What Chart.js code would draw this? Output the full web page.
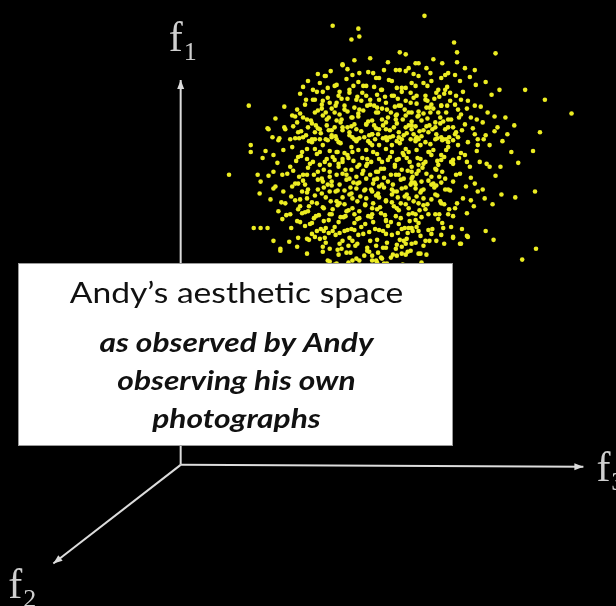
<!DOCTYPE html>
<html>
<head>
<meta charset="utf-8">
<title>Andy's aesthetic space</title>
<script src="https://cdn.jsdelivr.net/npm/chart.js@4.4.0/dist/chart.umd.min.js"></script>
<style>
  html, body { margin: 0; padding: 0; background: #000; }
  #space { display: block; }
</style>
</head>
<body>
<canvas id="space" width="616" height="606"></canvas>
<script>
// Feature axes: f3 runs right, f1 runs up, f2 comes out towards the viewer
const axisTips = {
  f1: [0, 39.0],
  f3: [40.8, -0.2],
  f2: [-12.9, -10.0]
};

// Photographs as [f3, f1] pairs, loose points around the edge of the cloud
const cloudOuter = [
  [15.4,44.5],[18.0,44.2],[17.3,43.1],[18.1,43.4],[22.2,41.8],[22.8,41.6],[16.4,40.6],[14.7,39.4],
  [6.9,36.4],[8.8,34.1],[10.0,33.1],[13.8,37.8],[15.8,38.5],[16.1,37.8],[17.1,38.0],[18.5,38.4],
  [19.8,39.2],[20.6,40.0],[22.8,39.9],[23.8,40.7],[21.4,38.9],[22.4,38.2],[23.4,38.7],[20.4,38.0],
  [17.8,37.0],[18.8,37.4],[15.8,36.7],[14.3,36.5],[13.4,37.0],[11.8,36.0],[11.3,35.4],[12.4,35.2],
  [13.6,35.7],[14.8,35.0],[15.6,35.7],[16.6,36.0],[17.3,35.2],[18.1,36.0],[18.9,36.4],[19.8,35.7],
  [20.8,36.7],[21.6,37.4],[22.3,36.4],[23.3,36.7],[22.8,35.4],[21.8,35.0],[20.8,34.7],[18.8,34.5],
  [17.8,34.0],[16.4,34.2],[15.3,33.9],[14.1,34.0],[12.9,34.2],[11.9,33.7],[11.1,33.0],[12.4,33.2],
  [13.6,33.0],[15.8,33.0],[17.1,33.4],[19.4,33.5],[20.1,34.0],[22.1,33.7],[23.4,34.0],[23.9,33.2],
  [11.8,34.7],[10.6,34.0],
  [24.7,45.5],[27.7,42.8],[28.0,41.8],[31.9,41.7],[28.0,40.8],[24.1,40.7],[28.8,40.2],[24.9,40.2],
  [24.1,39.4],[25.4,38.9],[26.4,39.2],[27.1,39.7],[27.8,39.5],[29.3,39.3],[29.9,38.5],[32.3,38.0],
  [34.9,38.0],[36.9,37.0],[39.6,35.6],[36.4,33.7],[26.8,38.0],[25.9,37.7],[27.9,37.4],[29.1,36.9],
  [23.3,37.7],[24.8,37.0],[25.4,36.5],[26.4,36.4],[27.3,36.9],[28.1,36.0],[29.8,36.4],[31.1,35.7],
  [32.9,35.2],[33.8,34.4],[32.1,34.2],[30.6,34.7],[29.4,35.2],[28.8,34.5],[27.4,35.0],[26.3,35.2],
  [25.3,35.7],[24.1,35.4],[23.1,35.7],[23.4,34.4],[24.6,33.9],[25.8,34.2],[26.8,34.0],[27.9,33.7],
  [29.8,33.5],[30.9,33.4],[33.1,33.5],[30.1,33.0],[26.9,33.0],[22.6,33.4],
  [4.9,29.4],[7.1,32.4],[7.1,31.7],[8.3,31.1],[9.4,31.4],[7.8,29.4],[8.1,28.7],[8.0,27.5],
  [9.1,26.9],[7.4,24.0],[8.1,24.0],[8.8,24.0],[9.4,22.7],[10.1,21.9],[11.9,23.0],[9.9,25.7],
  [10.3,24.9],[11.1,25.4],[10.6,26.5],[9.6,28.2],[10.4,27.7],[10.3,29.4],[9.4,29.7],[11.1,30.2],
  [9.3,33.2],[11.3,32.2],[11.9,31.2],[12.4,29.4],[11.6,28.5],[12.3,27.7],[12.8,27.0],[12.1,26.2],
  [12.9,25.7],[11.8,24.7],[13.1,24.4],[13.8,23.7],[12.8,22.9],[14.6,23.0],[15.4,23.7],[16.6,23.7],
  [16.1,22.4],[17.4,22.7],[15.1,21.9],[16.8,21.5],[17.8,20.9],[14.9,20.7],[18.9,21.7],[19.8,22.2],
  [20.8,22.0],[21.8,21.9],[22.6,22.7],[23.4,22.4],[20.4,20.9],[19.4,20.7],
  [35.7,31.8],[35.9,27.7],[33.9,27.1],[32.5,27.4],[36.0,21.9],[34.6,20.8],[31.7,22.8],[30.9,23.7],
  [29.1,23.1],[27.6,23.0],[26.6,24.0],[28.3,22.4],[31.6,26.4],[30.8,27.0],[30.1,27.7],[29.7,26.2],
  [32.4,30.2],[31.3,30.2],[29.8,28.5],[29.3,30.2],[30.3,30.7],[31.3,32.4],[30.1,32.4],[28.8,31.4],
  [28.1,32.4],[27.4,30.7],[28.3,29.5],[27.6,28.7],[28.6,27.0],[27.8,26.0],[26.8,27.9],[26.4,26.5],
  [27.1,25.4],[26.1,24.9],[25.1,25.4],[24.1,23.7],[23.1,24.0],[22.8,22.4],[24.1,21.4],[22.4,21.4],
  [25.4,23.4],[24.8,22.7],[24.6,27.0],[25.4,28.4],[25.8,30.0],[26.4,31.4],[27.1,32.7],[25.1,31.7],
  [24.1,30.4],[23.4,29.0],[24.4,28.7],[23.1,27.0],[23.8,28.0],[25.8,33.0],[24.1,33.0],
  [10.1,21.7],[11.8,22.1],[13.6,23.1],[15.1,20.6],[15.8,20.4],[15.9,21.8],[17.4,20.7],[18.1,20.7],
  [19.4,21.2],[19.8,20.7],[20.3,21.0],[21.3,21.0],[21.9,21.2],[22.8,21.3],[24.3,21.4],[24.4,20.5],
  [27.6,23.1],[28.4,22.4],[29.0,23.2],[19.9,20.5],[20.6,20.4]
];

// Dense middle of the cloud
const cloudCore = [
  [14.1,31.7],[14.8,31.0],[14.1,30.4],[15.1,29.7],[14.4,28.7],[15.1,27.7],[15.8,31.7],[16.4,30.7],
  [16.8,29.4],[16.1,28.4],[17.1,27.4],[15.8,26.7],[17.4,31.7],[18.1,30.4],[18.8,29.0],[17.8,28.0],
  [18.8,27.0],[19.4,32.4],[20.1,31.0],[19.8,29.7],[20.4,28.4],[19.4,27.7],[20.8,26.7],[21.4,32.4],
  [22.1,31.0],[21.8,29.4],[22.4,28.0],[21.4,27.4],[23.1,31.7],[23.4,29.7],[23.8,28.4],[22.8,26.4],
  [23.8,25.4],[15.1,25.4],[16.8,25.7],[18.1,25.0],[19.4,25.4],[20.8,24.7],[22.1,24.4],[23.4,24.0],
  [14.1,33.0],[17.4,33.2],[19.1,33.4],[20.8,33.2],[22.4,33.0],[23.8,33.0],
  [14.6,39.4],[16.4,40.5],[18.1,39.7],[20.1,39.2],[21.8,40.0],[23.1,40.2],[26.8,39.5],
  [13.4,38.0],[15.6,38.4],[17.1,37.7],[18.8,38.4],[20.3,38.0],[21.4,37.4],[22.8,38.2],[23.8,38.4],
  [24.8,37.4],[26.1,38.0],[27.3,37.7],
  [13.6,37.0],[15.1,36.7],[16.6,36.4],[18.3,36.9],[19.6,36.4],[20.9,36.0],[22.1,36.4],[23.4,35.7],
  [24.9,36.2],[26.4,36.4],[27.8,36.5],
  [12.8,35.0],[14.4,35.4],[15.8,34.9],[17.4,35.2],[18.8,34.5],[20.4,35.0],[21.8,35.4],[23.1,34.4],
  [24.4,34.9],[25.8,34.7],[27.1,35.0],
  [13.6,33.7],[15.3,33.4],[16.4,33.9],[17.9,33.0],[19.4,33.5],[20.8,34.0],[22.1,33.2],[23.6,33.5],
  [25.1,33.7],[26.4,33.2],[27.8,33.5],
  [12.8,32.0],[14.4,32.4],[15.9,31.7],[17.3,32.2],[18.8,31.9],[20.1,32.4],[21.4,31.7],[22.8,32.0],
  [24.3,32.4],[25.6,31.9],[27.1,32.2],
  [13.4,30.7],[15.1,30.4],[16.4,31.0],[17.9,30.2],[19.3,30.7],[20.6,30.0],[21.9,30.9],[23.4,30.2],
  [24.8,30.7],[26.1,30.4],[27.6,30.9],
  [12.8,29.4],[14.3,29.0],[15.8,29.4],[17.1,29.0],[18.4,29.5],[19.9,29.0],[21.3,29.4],[22.6,29.0],
  [23.9,29.5],[25.4,29.2],[26.8,29.0]
];

// Lower half of the core and the in-between points
const cloudFill = [
  [12.6,28.4],[13.9,27.9],[15.3,28.3],[16.6,27.8],[17.9,28.5],[19.3,27.9],[20.6,28.1],[21.9,27.7],
  [23.3,28.4],[24.6,27.9],[25.9,28.3],[27.3,27.8],
  [12.1,26.9],[13.3,26.6],[14.7,27.1],[16.1,26.5],[17.4,27.0],[18.7,26.4],[20.1,27.1],[21.4,26.6],
  [22.7,27.2],[24.1,26.5],[25.4,26.9],[26.7,26.4],
  [12.6,25.6],[14.0,25.3],[15.4,25.9],[16.7,25.2],[18.1,25.7],[19.4,26.0],[20.7,25.3],[22.1,25.8],
  [23.5,25.5],[24.8,25.9],[26.2,25.4],
  [13.3,24.5],[14.7,24.0],[16.0,24.6],[17.3,23.9],[18.7,24.4],[20.1,23.8],[21.3,24.6],[22.7,24.0],
  [24.1,24.5],[25.5,23.9],
  [14.1,22.9],[15.7,23.3],[17.1,23.0],[18.5,23.4],[19.9,22.8],[21.4,23.3],[22.9,22.9],[24.3,23.2],
  [25.9,22.7],
  [16.3,21.9],[17.7,22.2],[19.1,21.6],[20.5,22.0],[21.9,22.3],[23.3,21.7],
  [14.9,37.2],[16.3,37.1],[17.9,37.3],[19.2,37.0],[20.7,37.3],[22.0,37.1],[23.6,37.2],[25.0,36.9],
  [26.2,37.3],
  [13.9,35.9],[15.3,36.1],[16.9,35.8],[18.5,35.9],[19.9,36.2],[21.3,35.7],[22.7,36.0],[24.1,35.8],
  [25.6,36.1],[26.9,35.7],
  [13.3,34.6],[14.8,34.4],[16.2,34.7],[17.6,34.5],[19.0,34.8],[20.5,34.4],[21.9,34.6],[23.4,34.8],
  [24.9,34.3],[26.3,34.6],
  [12.7,33.4],[14.2,33.6],[15.7,33.3],[17.1,33.7],[18.6,33.2],[20.0,33.5],[21.5,33.3],[22.9,33.6],
  [24.4,33.3],[25.9,33.5],[27.2,33.2],
  [13.3,32.7],[14.9,32.9],[16.2,32.6],[17.8,32.8],[19.2,32.6],[20.9,32.9],[22.2,32.6],[23.8,32.8],
  [25.3,32.5],[26.5,32.9],
  [12.2,31.3],[13.8,31.5],[15.4,31.2],[16.9,31.4],[18.4,31.1],[19.9,31.5],[21.2,31.2],[22.6,31.4],
  [24.0,31.1],[25.4,31.4],[26.7,31.2],
  [12.9,30.1],[14.5,29.9],[16.0,30.2],[17.3,29.9],[18.8,30.3],[20.3,30.0],[21.7,30.2],[23.0,29.8],
  [24.5,30.1],[25.9,29.9],
  [12.4,28.8],[13.9,28.9],[15.3,28.7],[16.8,28.9],[18.1,28.6],[19.6,28.9],[21.0,28.7],[22.3,28.9],
  [23.7,28.6],[25.1,28.8],[26.4,28.6],
  [12.8,27.6],[14.3,27.5],[15.7,27.7],[17.3,27.5],[18.6,27.8],[20.0,27.5],[21.6,27.7],[22.9,27.4],
  [24.3,27.6],[25.8,27.4],
  [13.0,26.2],[14.4,26.1],[15.9,26.3],[17.4,26.0],[18.7,26.3],[20.2,26.1],[21.6,26.2],[23.1,26.0],
  [24.6,26.3],
  [13.5,25.0],[15.0,24.8],[16.5,25.1],[17.9,24.9],[19.3,25.1],[20.8,24.8],[22.3,25.0],[23.8,24.8],
  [14.5,23.7],[16.1,23.5],[17.6,23.8],[19.1,23.6],[20.5,23.7],[22.0,23.5],[23.5,23.7]
];

// Second pass over the whole cloud, between the points above
const cloudExtra = [
  [17.6,41.0],[19.2,41.2],[21.0,40.8],[25.6,41.1],[26.5,40.7],
  [15.2,39.9],[16.9,40.1],[19.0,39.8],[22.2,40.0],[25.3,39.7],[29.8,40.0],
  [12.9,38.9],[14.1,38.7],[16.8,39.1],[18.0,38.8],[21.1,39.0],[24.6,38.7],[28.3,38.9],[30.9,38.8],
  [12.1,37.6],[14.4,37.8],[16.0,37.4],[18.4,37.7],[19.9,37.5],[22.4,37.8],[23.9,37.4],[26.7,37.6],
  [28.6,37.8],[31.5,37.5],
  [10.5,36.3],[12.6,36.5],[14.3,36.1],[15.7,36.4],[17.6,36.2],[19.2,36.5],[20.4,36.1],[21.7,36.3],
  [23.9,36.6],[25.2,36.2],[27.0,36.4],[29.0,36.1],[30.4,36.3],
  [9.6,35.1],[11.6,35.3],[13.2,34.9],[15.0,35.2],[16.3,35.0],[18.0,35.3],[19.4,34.9],[21.0,35.2],
  [22.5,35.0],[24.0,35.3],[25.0,35.1],[26.6,34.8],[28.2,35.2],[30.0,35.0],[31.8,35.3],
  [8.9,34.0],[10.5,34.2],[12.2,33.8],[13.9,34.1],[15.0,33.9],[16.9,34.2],[18.3,33.8],[19.8,34.1],
  [21.2,33.9],[22.8,34.2],[24.2,33.8],[25.5,34.0],[27.1,34.2],[28.5,33.9],[29.6,34.1],[31.8,33.8],
  [9.9,32.9],[11.6,33.1],[13.0,32.8],[14.7,33.0],[16.0,32.7],[17.6,33.0],[19.0,32.8],[20.5,33.1],
  [21.9,32.8],[23.3,33.0],[24.8,32.7],[26.0,33.1],[27.6,32.9],[29.1,32.7],[30.7,33.0],[32.6,32.8],
  [8.6,31.8],[10.4,31.9],[12.3,31.7],[13.6,32.0],[15.1,31.8],[16.6,31.6],[18.0,31.9],[19.5,31.7],
  [20.8,32.0],[22.5,31.6],[23.9,31.9],[25.2,31.7],[26.9,31.9],[28.4,31.6],[30.0,31.8],[33.5,31.7],
  [9.8,30.6],[11.7,30.8],[13.1,30.5],[14.6,30.7],[16.0,30.5],[17.5,30.8],[18.9,30.5],[20.4,30.7],
  [21.7,30.4],[23.2,30.7],[24.6,30.5],[26.0,30.8],[27.6,30.5],[29.0,30.7],[31.0,30.5],[34.2,30.6],
  [8.9,29.3],[10.8,29.5],[12.0,29.2],[13.5,29.4],[15.1,29.2],[16.4,29.5],[17.8,29.2],[19.2,29.4],
  [20.6,29.1],[22.1,29.4],[23.5,29.2],[24.9,29.5],[26.2,29.2],[27.9,29.4],[29.4,29.1],[31.9,29.3],
  [9.4,28.0],[11.3,28.2],[12.9,27.9],[14.5,28.1],[15.9,27.8],[17.2,28.1],[18.7,27.9],[20.1,28.2],
  [21.4,27.9],[22.8,28.1],[24.4,27.8],[25.7,28.1],[27.1,27.9],[28.9,28.2],[30.6,27.9],
  [10.2,26.6],[11.6,26.8],[13.8,26.5],[15.2,26.7],[16.6,26.4],[17.9,26.7],[19.5,26.5],[20.8,26.8],
  [22.3,26.5],[23.6,26.7],[25.0,26.4],[26.3,26.7],[28.0,26.5],[29.4,26.8],
  [10.7,25.3],[12.3,25.5],[13.7,25.2],[15.3,25.4],[16.2,25.1],[17.6,25.4],[19.0,25.2],[20.3,25.5],
  [21.8,25.2],[23.1,25.4],[24.4,25.1],[25.8,25.4],[27.6,25.2],[29.0,25.5],
  [11.2,24.0],[12.6,24.2],[14.2,23.9],[15.6,24.1],[16.9,23.8],[18.3,24.1],[19.7,23.9],[21.0,24.2],
  [22.4,23.9],[23.9,24.1],[25.1,23.8],[27.4,24.1],[28.5,23.9],
  [11.0,22.6],[13.0,22.8],[14.7,22.5],[16.4,22.7],[17.9,22.4],[19.2,22.7],[20.9,22.5],[22.2,22.8],
  [23.8,22.5],[25.2,22.7],[26.7,22.4],
  [12.8,21.4],[14.4,21.6],[16.0,21.3],[17.2,21.5],[18.6,21.2],[20.0,21.5],[21.5,21.3],[23.0,21.6],
  [24.9,21.3],
  [15.6,20.3],[17.0,20.5],[18.8,20.2],[20.9,20.4],[22.5,20.3]
];

// Extra points where the cloud is thickest
const cloudDense = [
  [13.9,39.6],[17.4,39.5],[19.5,39.7],[23.6,39.6],
  [12.4,38.3],[14.9,38.2],[17.5,38.4],[19.6,38.3],[21.9,38.2],[25.0,38.4],[27.0,38.3],
  [12.7,37.0],[14.4,36.9],[16.9,37.1],[20.1,37.0],[22.8,36.9],[25.7,37.1],[28.4,37.0],
  [12.1,35.6],[14.7,35.7],[16.1,35.5],[18.0,35.6],[20.0,35.7],[21.9,35.5],[24.6,35.6],[26.1,35.7],[28.4,35.5],
  [11.4,34.3],[13.7,34.4],[15.6,34.2],[17.3,34.3],[19.6,34.4],[21.6,34.2],[23.8,34.3],[25.2,34.4],[27.6,34.2],
  [12.0,33.1],[13.3,33.0],[15.3,33.2],[18.1,33.1],[19.7,33.0],[21.2,33.2],[24.0,33.1],[26.6,33.0],[28.1,33.2],
  [12.8,31.0],[15.6,30.9],[17.0,31.1],[18.9,31.0],[21.0,30.9],[22.9,31.1],[24.3,31.0],[26.4,30.9],[28.2,31.1],
  [11.4,29.8],[13.9,29.7],[16.7,29.9],[18.5,29.8],[20.0,29.7],[22.4,29.9],[24.1,29.8],[26.5,29.7],
  [11.9,28.5],[14.9,28.4],[17.5,28.6],[19.5,28.5],[21.5,28.4],[23.4,28.6],[25.6,28.5],
  [11.2,27.2],[13.6,27.3],[16.4,27.1],[18.2,27.2],[19.8,27.3],[22.0,27.1],[23.9,27.2],[26.0,27.3],
  [11.9,25.9],[14.5,26.0],[17.0,25.8],[19.9,25.9],[21.9,26.0],[24.2,25.8],[27.2,25.9],
  [12.1,24.6],[14.5,24.7],[17.6,24.5],[19.5,24.6],[23.2,24.7],[26.5,24.5],
  [13.3,23.4],[15.0,23.5],[18.0,23.3],[20.8,23.4],[23.0,23.5],[26.4,23.3],
  [14.4,22.1],[17.0,22.2],[18.9,22.0],[22.4,22.1],[24.6,22.2]
];

const cloud = [...cloudOuter, ...cloudCore, ...cloudFill, ...cloudExtra, ...cloudDense]
  .map(([x, y]) => ({ x, y }));

// Caption box text
const captionTitle = 'Andy\u2019s aesthetic space';
const captionLines = ['as observed by Andy', 'observing his own', 'photographs'];

const axisColor = '#dcdcdc';
const labelColor = '#cfcfcf';

function arrowHead(ctx, x0, y0, x1, y1, len, half) {
  const a = Math.atan2(y1 - y0, x1 - x0);
  ctx.beginPath();
  ctx.moveTo(x1, y1);
  ctx.lineTo(x1 - len * Math.cos(a) + half * Math.sin(a), y1 - len * Math.sin(a) - half * Math.cos(a));
  ctx.lineTo(x1 - len * Math.cos(a) - half * Math.sin(a), y1 - len * Math.sin(a) + half * Math.cos(a));
  ctx.closePath();
  ctx.fill();
}

function axisLabel(ctx, x, y, sub) {
  ctx.font = '42px "Liberation Serif", "DejaVu Serif", serif';
  ctx.textBaseline = 'alphabetic';
  ctx.textAlign = 'left';
  ctx.fillText('f', x, y);
  const w = ctx.measureText('f').width;
  ctx.font = '26px "Liberation Serif", "DejaVu Serif", serif';
  ctx.fillText(sub, x + w + 1, y + 9);
}

// text stretched sideways (the caption font runs wide)
function wideText(ctx, text, cx, y, sx) {
  ctx.save();
  ctx.translate(cx, y);
  ctx.scale(sx, 1);
  ctx.fillText(text, 0, 0);
  ctx.restore();
}

// Axes go under the points, labels and caption box on top
const axesPlugin = {
  id: 'axes3d',
  beforeDatasetsDraw(chart) {
    const { ctx, scales: { x, y } } = chart;
    const ox = x.getPixelForValue(0), oy = y.getPixelForValue(0);
    ctx.save();
    ctx.strokeStyle = axisColor;
    ctx.fillStyle = axisColor;
    ctx.lineWidth = 2;
    Object.values(axisTips).forEach(([tx, ty]) => {
      const px = x.getPixelForValue(tx), py = y.getPixelForValue(ty);
      ctx.beginPath();
      ctx.moveTo(ox, oy);
      ctx.lineTo(px, py);
      ctx.stroke();
      arrowHead(ctx, ox, oy, px, py, 9, 3.5);
    });
    ctx.restore();
  },
  afterDatasetsDraw(chart) {
    const { ctx, scales: { x, y } } = chart;
    ctx.save();
    ctx.fillStyle = labelColor;
    const t1 = axisTips.f1, t3 = axisTips.f3, t2 = axisTips.f2;
    axisLabel(ctx, x.getPixelForValue(t1[0]) - 12, y.getPixelForValue(t1[1]) - 29, '1');
    axisLabel(ctx, x.getPixelForValue(t3[0]) + 13, y.getPixelForValue(t3[1]) + 14, '3');
    axisLabel(ctx, x.getPixelForValue(t2[0]) - 45, y.getPixelForValue(t2[1]) + 34, '2');

    // caption box over the lower-left of the plot
    const bx = 18, by = 263, bw = 435, bh = 183;
    ctx.fillStyle = '#ffffff';
    ctx.fillRect(bx, by, bw, bh);
    ctx.strokeStyle = '#9a9a9a';
    ctx.lineWidth = 1;
    ctx.strokeRect(bx + 0.5, by + 0.5, bw - 1, bh - 1);

    const cx = bx + bw / 2 + 1;
    ctx.fillStyle = '#111111';
    ctx.textAlign = 'center';
    ctx.textBaseline = 'alphabetic';
    ctx.font = '28px Lato, "Open Sans", sans-serif';
    wideText(ctx, captionTitle, cx, 303, 1.2);
    ctx.font = 'italic bold 26px Lato, "Open Sans", sans-serif';
    captionLines.forEach((line, i) => wideText(ctx, line, cx, 352 + i * 38, 1.22));
    ctx.restore();
  }
};

new Chart(document.getElementById('space'), {
  type: 'scatter',
  data: {
    datasets: [{
      label: 'photographs',
      data: cloud,
      pointRadius: 2.3,
      pointBackgroundColor: '#ecec22',
      pointBorderWidth: 0
    }]
  },
  options: {
    responsive: false,
    animation: false,
    events: [],
    layout: { padding: 0 },
    plugins: {
      legend: { display: false },
      tooltip: { enabled: false }
    },
    scales: {
      x: { type: 'linear', display: false, min: -17.9, max: 43.7 },
      y: { type: 'linear', display: false, min: -13.9, max: 46.7 }
    }
  },
  plugins: [axesPlugin]
});
</script>
</body>
</html>
